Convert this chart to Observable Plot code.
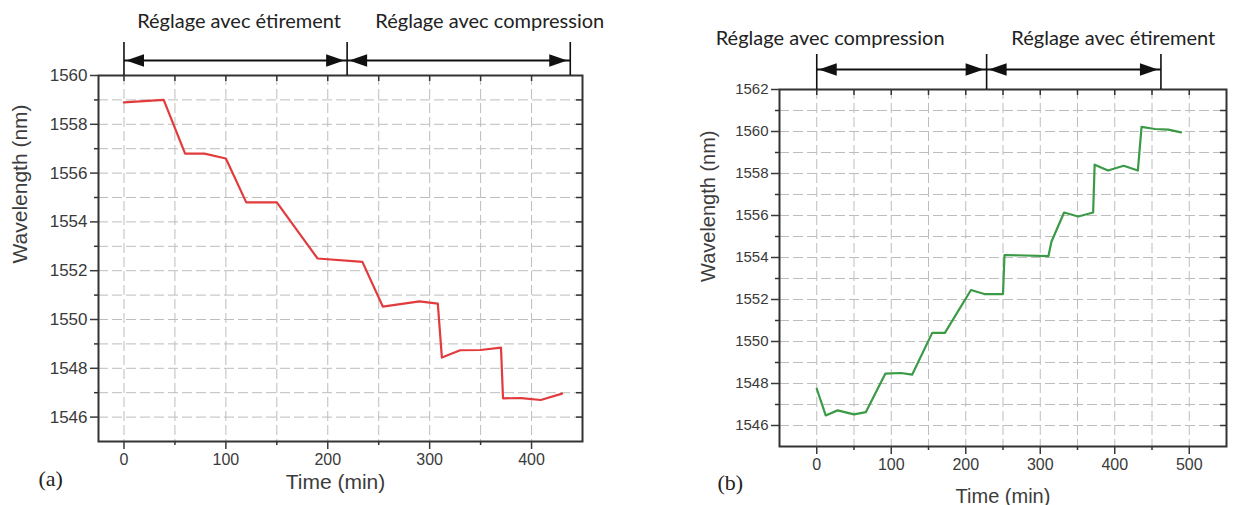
<!DOCTYPE html>
<html>
<head>
<meta charset="utf-8">
<script src="https://cdn.jsdelivr.net/npm/d3@7"></script>
<script src="https://cdn.jsdelivr.net/npm/@observablehq/plot@0.6"></script>
<style>
  html, body { margin: 0; padding: 0; background: #fff; }
  #figure { position: relative; width: 1233px; height: 505px; background: #fff; overflow: hidden; }
  #figure > svg { position: absolute; top: 0; overflow: visible; }
</style>
</head>
<body>
<div id="figure"></div>
<script>
// ---- (a) tuning run: stretching first, then compression ----
const timeA = [0, 39, 60, 79, 100, 120, 150, 190, 234, 254, 290, 308, 312, 330, 350, 370, 372, 390, 409, 430];
const waveA = [1558.9, 1559.0, 1556.8, 1556.8, 1556.6, 1554.8, 1554.8, 1552.5, 1552.36, 1550.53, 1550.74, 1550.65,
               1548.44, 1548.74, 1548.75, 1548.85, 1546.77, 1546.78, 1546.7, 1546.96];
const xTicksA = [0, 100, 200, 300, 400];
const yTicksA = [1546, 1548, 1550, 1552, 1554, 1556, 1558, 1560];
const phaseBoundsA = [0, 219, 438];
const phaseNamesA = ["Réglage avec étirement", "Réglage avec compression"];
const phaseLabelAtA = [113, 359];

// ---- (b) tuning run: compression first, then stretching ----
const timeB = [0, 12, 28, 50, 66, 92, 113, 128, 155, 172, 207, 225, 250, 252, 311, 315, 332, 351, 371, 373,
               391, 412, 431, 436, 454, 472, 489];
const waveB = [1547.75, 1546.48, 1546.72, 1546.53, 1546.64, 1548.47, 1548.5, 1548.42, 1550.41, 1550.41, 1552.45,
               1552.26, 1552.26, 1554.12, 1554.07, 1554.75, 1556.14, 1555.95, 1556.14, 1558.42, 1558.14, 1558.37,
               1558.14, 1560.22, 1560.12, 1560.09, 1559.96];
const xTicksB = [0, 100, 200, 300, 400, 500];
const yTicksB = [1546, 1548, 1550, 1552, 1554, 1556, 1558, 1560, 1562];
const phaseBoundsB = [0, 228, 462];
const phaseNamesB = ["Réglage avec compression", "Réglage avec étirement"];
const phaseLabelAtB = [18, 398];

// filled arrowheads, tip at the anchor point
function head(dir) {
  return {
    draw(ctx, size) {
      const r = Math.sqrt(size / Math.PI);
      ctx.moveTo(0, 0);
      ctx.lineTo(-dir * 2 * r, -0.7 * r);
      ctx.lineTo(-dir * 2 * r, 0.7 * r);
      ctx.closePath();
    }
  };
}

const GRID = {stroke: "#bdbdbd", strokeOpacity: 1, strokeWidth: 1, strokeDasharray: "10,4"};
const INK = "#333";
const plain = d => String(d);

function panel(c) {
  const fw = c.width - c.ml - c.mr;
  const fh = c.height - c.mt - c.mb;
  const series = c.time.map((t, i) => ({t, v: c.wave[i]}));
  const yTop = c.yDomain[1];
  const xGrid = d3.range(0, c.xDomain[1], 50);
  const xMinor = xGrid.filter(d => !c.xTicks.includes(d));
  const yGrid = d3.range(c.yDomain[0] + 1, c.yDomain[1], 1);
  const yMinor = yGrid.filter(d => !c.yTicks.includes(d));
  const spans = [0, 1].map(i => ({a: c.bounds[i], b: c.bounds[i + 1]}));
  const labels = c.names.map((name, i) => ({name, t: c.labelAt[i]}));

  return Plot.plot({
    width: c.width,
    height: c.height,
    marginLeft: c.ml,
    marginRight: c.mr,
    marginTop: c.mt,
    marginBottom: c.mb,
    x: {domain: c.xDomain},
    y: {domain: c.yDomain},
    style: {fontFamily: "'Liberation Sans', Arial, sans-serif", background: "transparent", overflow: "visible"},
    marks: [
      Plot.gridX(xGrid, GRID),
      Plot.gridY(yGrid, GRID),
      Plot.line(series, {x: "t", y: "v", stroke: c.color, strokeWidth: 2.2, strokeLinejoin: "round"}),
      Plot.frame({stroke: INK, strokeWidth: 2}),
      // left axis: labelled majors outward, minors shorter
      Plot.axisY(c.yTicks, {anchor: "left", tickSize: 8, tickPadding: 3, tickFormat: plain, fontSize: c.yFont, color: "#3a3a3a", strokeWidth: 1.5, label: null}),
      Plot.tickY(yMinor, {y: d => d, insetLeft: -4, insetRight: fw, stroke: INK, strokeWidth: 1.5}),
      // right edge: inward ticks
      Plot.tickY(yGrid, {y: d => d, insetLeft: fw - 6, stroke: INK, strokeWidth: 1.5}),
      // bottom axis
      Plot.axisX(c.xTicks, {anchor: "bottom", tickSize: 8, tickPadding: 4, tickFormat: plain, fontSize: c.xFont, color: "#3a3a3a", strokeWidth: 1.5, label: null}),
      Plot.tickX(xMinor, {x: d => d, insetTop: fh, insetBottom: -4, stroke: INK, strokeWidth: 1.5}),
      // top edge: inward ticks
      Plot.tickX(xGrid, {x: d => d, insetBottom: fh - 6, stroke: INK, strokeWidth: 1.5}),
      // axis titles and panel letter
      Plot.text(["Time (min)"], {text: d => d, frameAnchor: "bottom", dx: c.xTitleDx, dy: c.xTitleDy, fontSize: c.titleFont, fill: "#3c3c3c"}),
      Plot.text(["Wavelength (nm)"], {text: d => d, frameAnchor: "left", rotate: -90, dx: c.yTitleDx, dy: c.yTitleDy, fontSize: c.titleFont, fill: "#3c3c3c"}),
      Plot.text([c.letter], {text: d => d, frameAnchor: "bottom-left", dx: c.letterDx, dy: c.letterDy, fontSize: 22, fontFamily: "'Liberation Serif', 'Times New Roman', serif", fill: "#222"}),
      // tuning phase brackets above the frame
      Plot.tickX(c.bounds, {x: d => d, insetTop: -c.barLen, insetBottom: fh, stroke: "#111", strokeWidth: 1.6}),
      Plot.link(spans, {x1: "a", x2: "b", y1: () => yTop, y2: () => yTop, dy: -c.arrowRise, stroke: "#111", strokeWidth: 1.8}),
      Plot.dot(spans, {x: "a", y: () => yTop, dx: 2, dy: -c.arrowRise, symbol: head(-1), r: 9, fill: "#111", stroke: "none"}),
      Plot.dot(spans, {x: "b", y: () => yTop, dx: -3, dy: -c.arrowRise, symbol: head(1), r: 9, fill: "#111", stroke: "none"}),
      Plot.text(labels, {x: "t", y: () => yTop, text: "name", dy: -c.labelRise, fontSize: c.annFont, fontFamily: "Lato, 'Open Sans', sans-serif", fill: "#222"})
    ]
  });
}

const figure = document.getElementById("figure");

const chartA = panel({
  time: timeA, wave: waveA, color: "#e23b3d",
  xDomain: [-25, 450], yDomain: [1545, 1560], xTicks: xTicksA, yTicks: yTicksA,
  bounds: phaseBoundsA, names: phaseNamesA, labelAt: phaseLabelAtA,
  width: 620, height: 505, ml: 98, mr: 38, mt: 75, mb: 64,
  yFont: 17, xFont: 16, titleFont: 21, annFont: 20,
  xTitleDx: -5, xTitleDy: 47, yTitleDx: -78, yTitleDy: 5,
  letter: "(a)", letterDx: -60, letterDy: 44,
  barLen: 33, arrowRise: 15, labelRise: 54
});
chartA.style.left = "0px";
figure.appendChild(chartA);

const chartB = panel({
  time: timeB, wave: waveB, color: "#3a9a46",
  xDomain: [-50, 550], yDomain: [1545, 1562], xTicks: xTicksB, yTicks: yTicksB,
  bounds: phaseBoundsB, names: phaseNamesB, labelAt: phaseLabelAtB,
  width: 613, height: 505, ml: 159, mr: 7, mt: 89, mb: 59,
  yFont: 15, xFont: 16, titleFont: 20, annFont: 20,
  xTitleDx: 0, xTitleDy: 56, yTitleDx: -71, yTitleDy: 14,
  letter: "(b)", letterDx: -62, letterDy: 43,
  barLen: 35, arrowRise: 20, labelRise: 51
});
chartB.style.left = "620px";
figure.appendChild(chartB);
</script>
</body>
</html>
